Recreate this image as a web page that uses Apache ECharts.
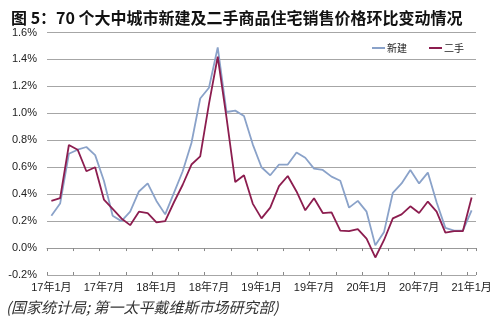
<!DOCTYPE html>
<html>
<head>
<meta charset="utf-8">
<script src="https://cdn.jsdelivr.net/npm/echarts@6/dist/echarts.min.js"></script>
<style>
html,body{margin:0;padding:0;background:#fff;}
#c{width:500px;height:328px;}
</style>
</head>
<body>
<div id="c"></div>
<script>
// Months from 2017-01 to 2021-01
var categories = [];
for (var y = 17; y <= 21; y++) {
  for (var m = 1; m <= 12; m++) {
    if (y === 21 && m > 1) break;
    categories.push(y + '年' + m + '月');
  }
}
var newHome = [0.24, 0.33, 0.70, 0.73, 0.75, 0.69, 0.50, 0.24, 0.20, 0.27, 0.42, 0.48,
               0.35, 0.25, 0.41, 0.57, 0.78, 1.11, 1.19, 1.49, 1.01, 1.02, 0.98, 0.77,
               0.60, 0.54, 0.62, 0.62, 0.71, 0.67, 0.59, 0.58, 0.53, 0.50, 0.30, 0.35,
               0.27, 0.02, 0.12, 0.41, 0.48, 0.58, 0.48, 0.56, 0.34, 0.15, 0.13, 0.13,
               0.28];
var secondHand = [0.35, 0.37, 0.765, 0.73, 0.57, 0.60, 0.36, 0.29, 0.22, 0.17, 0.27, 0.26,
                  0.19, 0.20, 0.34, 0.47, 0.62, 0.68, 1.07, 1.42, 0.97, 0.49, 0.54, 0.33,
                  0.22, 0.30, 0.46, 0.535, 0.42, 0.28, 0.37, 0.26, 0.265, 0.13, 0.125, 0.14,
                  0.07, -0.07, 0.06, 0.22, 0.25, 0.31, 0.26, 0.345, 0.27, 0.115, 0.125, 0.125,
                  0.375];
var seriesNames = ['新建', '二手'];
var yTicks = {min: -0.2, max: 1.6, interval: 0.2};
var titleText = '图 5：70 个大中城市新建及二手商品住宅销售价格环比变动情况';
var sourceText = '(国家统计局; 第一太平戴维斯市场研究部)';

var chart = echarts.init(document.getElementById('c'), null, {renderer: 'canvas'});
var cjk = '"Liberation Sans", Arial, "Noto Sans CJK SC", sans-serif';
var gridCol = '#a6a6a6';
chart.setOption({
  animation: false,
  backgroundColor: '#fff',
  title: {
    text: titleText,
    left: 6, top: 5,
    textStyle: {fontSize: 16, fontWeight: 'bold', color: '#111', fontFamily: '"Noto Sans CJK SC", sans-serif'}
  },
  graphic: [{
    type: 'text', left: 6, top: 300,
    style: {text: sourceText, fontSize: 15, fontStyle: 'italic', fill: '#333', fontFamily: '"Noto Sans CJK SC", sans-serif'}
  }],
  legend: {
    data: seriesNames,
    left: 367, top: 38,
    icon: 'rect', itemWidth: 13, itemHeight: 2, itemGap: 22,
    textStyle: {fontSize: 10, color: '#222', fontFamily: '"Noto Sans CJK SC", sans-serif', padding: [0, 0, 0, -3]}
  },
  grid: {left: 47, right: 24, top: 32.5, bottom: 53, containLabel: false},
  xAxis: [{
    type: 'category', data: categories, boundaryGap: true, position: 'bottom',
    axisLine: {show: false, onZero: false}, axisTick: {show: false},
    axisLabel: {interval: 5, margin: 7, fontSize: 11, color: '#222', fontFamily: cjk}
  }, {
    type: 'category', data: categories, boundaryGap: true, position: 'bottom',
    axisLine: {show: true, onZero: true, lineStyle: {color: '#999', width: 1}},
    axisTick: {show: true, interval: 2, length: 3, inside: false, lineStyle: {color: '#888'}},
    axisLabel: {show: false}
  }, {
    type: 'category', data: categories, boundaryGap: true, position: 'bottom',
    axisLine: {show: false, onZero: true},
    axisTick: {show: true, interval: 2, length: 3, inside: true, lineStyle: {color: '#888'}},
    axisLabel: {show: false}
  }],
  yAxis: {
    type: 'value', min: yTicks.min, max: yTicks.max, interval: yTicks.interval,
    axisLine: {show: false}, axisTick: {show: false},
    splitLine: {show: true, lineStyle: {color: gridCol, width: 1}},
    axisLabel: {margin: 10, fontSize: 11, color: '#222', fontFamily: cjk,
      formatter: function (v) { return v.toFixed(1) + '%'; }}
  },
  series: [{
    name: seriesNames[0], type: 'line', data: newHome, xAxisIndex: 0,
    symbol: 'none', lineStyle: {color: '#8aa2c9', width: 1.8}, itemStyle: {color: '#8aa2c9'}
  }, {
    name: seriesNames[1], type: 'line', data: secondHand, xAxisIndex: 0,
    symbol: 'none', lineStyle: {color: '#8c1d4f', width: 1.8}, itemStyle: {color: '#8c1d4f'}
  }]
});
</script>
</body>
</html>
